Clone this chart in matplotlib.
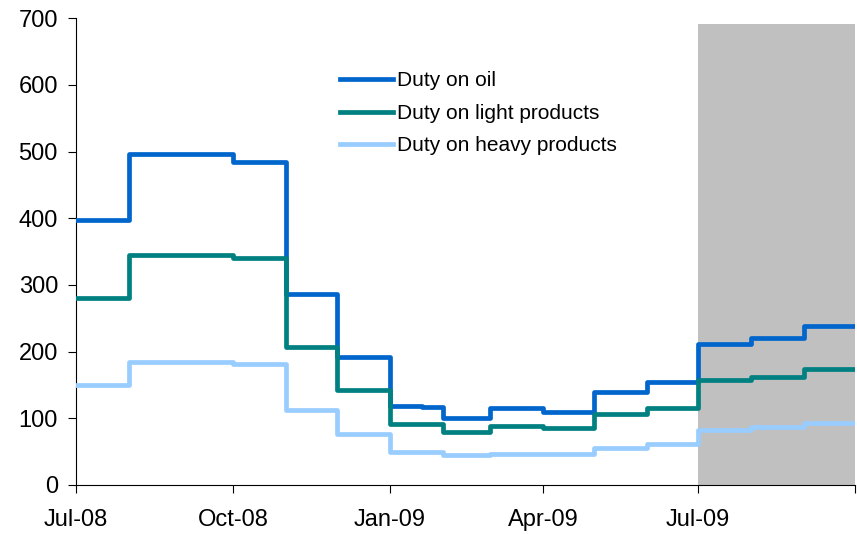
import datetime as dt
import matplotlib
matplotlib.use("Agg")
import matplotlib.pyplot as plt

plt.rcParams['font.family'] = ['Liberation Sans', 'DejaVu Sans']

# step change dates (duty in force from this date)
dates = ["2008-07-01", "2008-08-01", "2008-10-01", "2008-11-01", "2008-12-01",
         "2009-01-01", "2009-01-20", "2009-02-01", "2009-03-01", "2009-04-01",
         "2009-05-01", "2009-06-01", "2009-07-01", "2009-08-01", "2009-09-01",
         "2009-10-01"]
oil = [398, 496, 484, 286, 192, 119, 117, 101, 115, 110, 139, 154, 212, 221, 238, 238]
light = [281, 345, 340, 207, 142, 92, 91, 80, 88, 86, 106, 115, 157, 162, 174, 174]
heavy = [150, 185, 182, 112, 76, 50, 49, 45, 47, 47, 56, 62, 82, 87, 93, 93]

tick_dates = ["2008-07-01", "2008-10-01", "2009-01-01", "2009-04-01", "2009-07-01", "2009-10-01"]
tick_labels = ["Jul-08", "Oct-08", "Jan-09", "Apr-09", "Jul-09", ""]

forecast_start = "2009-07-01"
forecast_end = "2009-10-01"
forecast_top = 692

def d(s):
    return dt.datetime.strptime(s, "%Y-%m-%d")

x = [d(s) for s in dates]

fig = plt.figure(figsize=(8.57, 5.34), dpi=100)
ax = fig.add_axes([0.0887, 0.0918, 0.909, 0.874])

ax.fill_between([d(forecast_start), d(forecast_end)], 0, forecast_top,
                color="#c0c0c0", linewidth=0, zorder=0)

style = dict(drawstyle="steps-post", lw=3.4, zorder=3, solid_joinstyle="round")
ax.plot(x, oil, color="#0066cc", label="Duty on oil", **style)
ax.plot(x, light, color="#008080", label="Duty on light products", **style)
ax.plot(x, heavy, color="#99ccff", label="Duty on heavy products", **style)

ax.set_xlim(x[0], x[-1])
ax.set_ylim(0, 700)
ax.set_yticks(range(0, 701, 100))
ax.set_xticks([d(s) for s in tick_dates])
ax.set_xticklabels(tick_labels)

for s in ["top", "right"]:
    ax.spines[s].set_visible(False)
ax.tick_params(axis="both", direction="out", length=6, labelsize=17, pad=7)
ax.tick_params(axis="x", pad=11)

ax.legend(loc="upper left", bbox_to_anchor=(0.339, 0.886), frameon=False,
          borderaxespad=0, borderpad=0,
          fontsize=15, handlelength=2.55, labelspacing=0.64, handletextpad=0.2)

fig.savefig("out.png", dpi=100)
